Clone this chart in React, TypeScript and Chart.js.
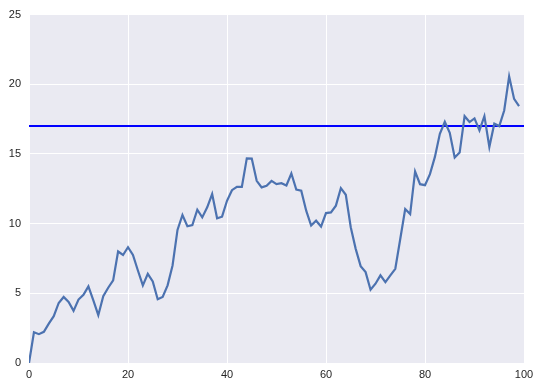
import React, { useEffect, useRef } from "react";
import { Chart, registerables } from "chart.js";

Chart.register(...registerables);

const xValues: number[] = Array.from({ length: 100 }, (_, i) => i);
const seriesValues: number[] = [
  0, 2.21, 2.07, 2.24, 2.83, 3.36, 4.31, 4.74, 4.38, 3.74,
  4.55, 4.9, 5.5, 4.5, 3.43, 4.79, 5.4, 5.93, 8.0, 7.75,
  8.31, 7.75, 6.64, 5.57, 6.4, 5.86, 4.57, 4.74, 5.57, 7.0,
  9.55, 10.62, 9.81, 9.9, 11.0, 10.45, 11.17, 12.12, 10.38, 10.5,
  11.64, 12.4, 12.64, 12.64, 14.69, 14.67, 13.07, 12.6, 12.71, 13.07,
  12.83, 12.9, 12.74, 13.6, 12.45, 12.36, 10.93, 9.86, 10.21, 9.79,
  10.76, 10.81, 11.29, 12.55, 12.07, 9.74, 8.19, 6.95, 6.52, 5.26,
  5.69, 6.29, 5.81, 6.29, 6.76, 8.9, 11.05, 10.69, 13.74, 12.83,
  12.76, 13.55, 14.79, 16.45, 17.31, 16.52, 14.74, 15.1, 17.71, 17.29,
  17.55, 16.69, 17.71, 15.5, 17.17, 17.0, 18.12, 20.57, 18.95, 18.43,
];
const thresholdValue = 17;
const xTicks: number[] = [0, 20, 40, 60, 80, 100];
const yTicks: number[] = [0, 5, 10, 15, 20, 25];

const bgPlugin = {
  id: "plotBg",
  beforeDraw(chart: any) {
    const { ctx, chartArea } = chart;
    if (!chartArea) return;
    ctx.save();
    ctx.fillStyle = "#EAEAF2";
    ctx.fillRect(chartArea.left, chartArea.top, chartArea.right - chartArea.left, chartArea.bottom - chartArea.top);
    ctx.restore();
  },
};

export default function App() {
  const ref = useRef<HTMLCanvasElement | null>(null);
  useEffect(() => {
    document.body.style.margin = "0";
    if (!ref.current) return;
    const font = { family: "'Liberation Sans', Arial, sans-serif", size: 11 };
    const chart = new Chart(ref.current, {
      type: "line",
      data: {
        datasets: [
          {
            data: xValues.map((x, i) => ({ x, y: seriesValues[i] })),
            borderColor: "#4C72B0",
            borderWidth: 2.2,
            pointRadius: 0,
            tension: 0,
            fill: false,
          },
          {
            data: [
              { x: xTicks[0], y: thresholdValue },
              { x: xTicks[xTicks.length - 1], y: thresholdValue },
            ],
            borderColor: "#0000FF",
            borderWidth: 2,
            pointRadius: 0,
            tension: 0,
            fill: false,
          },
        ],
      },
      options: {
        animation: false,
        responsive: false,
        maintainAspectRatio: false,
        layout: { padding: { left: 0, top: 13, right: 17, bottom: 0 } },
        plugins: { legend: { display: false }, tooltip: { enabled: false } },
        scales: {
          x: {
            type: "linear",
            min: xTicks[0],
            max: xTicks[xTicks.length - 1],
            afterBuildTicks: (axis: any) => {
              axis.ticks = xTicks.map((v) => ({ value: v }));
            },
            afterFit: (axis: any) => {
              axis.height = 27;
            },
            grid: { color: "#FFFFFF", lineWidth: 1, drawTicks: false },
            border: { display: false },
            ticks: { color: "#262626", font, padding: 5, maxRotation: 0 },
          },
          y: {
            type: "linear",
            min: yTicks[0],
            max: yTicks[yTicks.length - 1],
            afterBuildTicks: (axis: any) => {
              axis.ticks = yTicks.map((v) => ({ value: v }));
            },
            afterFit: (axis: any) => {
              axis.width = 29;
            },
            grid: { color: "#FFFFFF", lineWidth: 1, drawTicks: false },
            border: { display: false },
            ticks: { color: "#262626", font, padding: 8 },
          },
        },
      },
      plugins: [bgPlugin],
    } as any);
    return () => chart.destroy();
  }, []);
  return (
    <div style={{ width: 541, height: 390, background: "#FFFFFF" }}>
      <canvas ref={ref} width={541} height={390} style={{ display: "block" }} />
    </div>
  );
}
